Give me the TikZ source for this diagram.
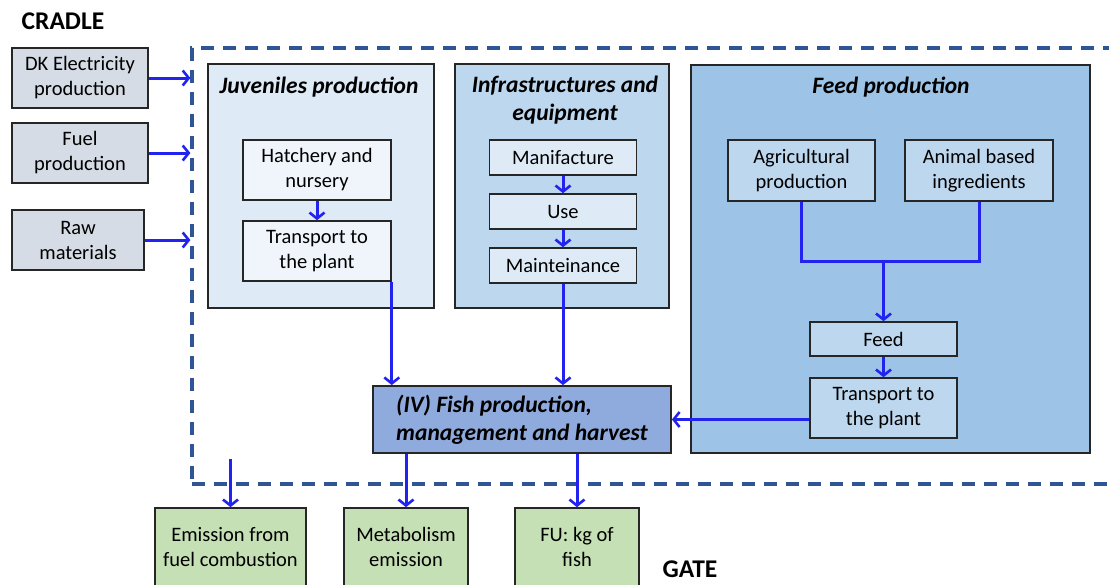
\documentclass[tikz,border=0pt]{standalone}
\usepackage{fontspec}
\setmainfont{Carlito}
\usetikzlibrary{arrows.meta, positioning, calc}
\definecolor{inputbg}{HTML}{D6DCE5}
\definecolor{juvbg}{HTML}{DEEBF7}
\definecolor{juvin}{HTML}{EFF5FB}
\definecolor{infrabg}{HTML}{BDD7EE}
\definecolor{feedbg}{HTML}{9DC3E6}
\definecolor{fishbg}{HTML}{8FAADC}
\definecolor{outbg}{HTML}{C5E0B4}
\definecolor{flowblue}{HTML}{2323F0}
\definecolor{sysline}{HTML}{2F5597}
\newcommand{\boxfont}{\fontsize{20.5}{25}\selectfont}
\newcommand{\titlefont}{\fontsize{23.5}{28}\selectfont\bfseries\itshape}
\tikzset{
    stagebox/.style={
        rectangle, draw=black!85, line width=1.8pt, inner sep=0pt
    },
    stepbox/.style={
        rectangle, draw=black!85, line width=1.6pt, align=center,
        inner sep=2pt, font=\boxfont
    },
    title/.style={
        align=center, font=\titlefont, inner sep=0pt
    },
    flow/.style={
        -{Straight Barb[length=6pt, width=15pt, line width=2.6pt]},
        line width=3pt, draw=flowblue
    },
    merge/.style={
        line width=3pt, draw=flowblue
    },
    sysbound/.style={
        rectangle, draw=sysline, line width=3.2pt,
        dash pattern=on 13pt off 9pt, inner sep=0pt
    }
}

\begin{document}
\begin{tikzpicture}[x=1pt, y=-1pt]

    \useasboundingbox (0,0) rectangle (1109,584);

    % system boundary
    \node[sysbound, minimum width=926pt, minimum height=436pt] (system) at (655,266) {};

    \node[font=\fontsize{25.5}{30}\selectfont\bfseries] (cradle) at (63,21) {CRADLE};
    \node[font=\fontsize{25.5}{30}\selectfont\bfseries] (gate)   at (690,569) {GATE};

    % upstream inputs
    \node[stepbox, fill=inputbg, minimum width=136pt, minimum height=60pt] (elec) at (80,78)  {DK Electricity\\production};
    \node[stepbox, fill=inputbg, minimum width=136pt, minimum height=60pt] (fuel) at (80,153) {Fuel\\production};
    \node[stepbox, fill=inputbg, minimum width=132pt, minimum height=60pt] (raw)  at (78,240) {Raw\\materials};

    \draw[flow] (elec.east) -- (elec.east -| system.west);
    \draw[flow] (fuel.east) -- (fuel.east -| system.west);
    \draw[flow] (raw.east)  -- (raw.east -| system.west);

    % juveniles production
    \node[stagebox, fill=juvbg, minimum width=226pt, minimum height=244pt] (juv) at (321,186) {};
    \node[title] (juvtitle) at (319,87) {Juveniles production};
    \node[stepbox, fill=juvin, minimum width=148pt, minimum height=60pt] (hatch)  at (317,170) {Hatchery and\\nursery};
    \node[stepbox, fill=juvin, minimum width=148pt, minimum height=60pt] (jtrans) at (317,251) {Transport to\\the plant};
    \draw[flow] (hatch) -- (jtrans);

    % infrastructures and equipment
    \node[stagebox, fill=infrabg, minimum width=214pt, minimum height=244pt] (infra) at (562,186) {};
    \node[title] (infratitle) at (565,100) {Infrastructures and\\equipment};
    \node[stepbox, fill=juvbg, minimum width=147pt, minimum height=35pt] (manif) at (563,157.5) {Manifacture};
    \node[stepbox, fill=juvbg, minimum width=147pt, minimum height=35pt] (use)   at (563,211.5) {Use};
    \node[stepbox, fill=juvbg, minimum width=147pt, minimum height=35pt] (maint) at (563,265.5) {Mainteinance};
    \draw[flow] (manif) -- (use);
    \draw[flow] (use)   -- (maint);

    % feed production
    \node[stagebox, fill=feedbg, minimum width=399pt, minimum height=388pt] (feedprod) at (890.5,259) {};
    \node[title] (feedtitle) at (891,87) {Feed production};
    \node[stepbox, fill=infrabg, minimum width=147pt, minimum height=61pt] (agri)   at (801.5,170.5) {Agricultural\\production};
    \node[stepbox, fill=infrabg, minimum width=148pt, minimum height=61pt] (animal) at (979,170.5)   {Animal based\\ingredients};
    \node[stepbox, fill=infrabg, minimum width=147pt, minimum height=34pt] (feed)   at (883.5,339)   {Feed};
    \node[stepbox, fill=infrabg, minimum width=147pt, minimum height=60pt] (ftrans) at (883.5,408)   {Transport to\\the plant};

    \coordinate (join) at (883.5,261);
    \draw[merge] (agri.south) |- (join);
    \draw[merge] (animal.south) |- (join);
    \draw[flow] (join) -- (feed.north);
    \draw[flow] (feed) -- (ftrans);

    % fish production
    \node[stagebox, fill=fishbg, minimum width=298pt, minimum height=67pt,
          align=left, font=\titlefont] (fish) at (522,419.5)
        {(IV) Fish production,\\management and harvest};

    \draw[flow] (jtrans.south east) -- (jtrans.south east |- fish.north);
    \draw[flow] (maint.south) -- (maint.south |- fish.north);
    \draw[flow] (ftrans.west |- fish.east) -- (fish.east);

    % outputs
    \node[stepbox, fill=outbg, minimum width=151pt, minimum height=78pt] (emis)  at (230.5,547) {Emission from\\fuel combustion};
    \node[stepbox, fill=outbg, minimum width=124pt, minimum height=78pt] (metab) at (406,547)   {Metabolism\\emission};
    \node[stepbox, fill=outbg, minimum width=124pt, minimum height=78pt] (fu)    at (577,547)   {FU: kg of\\fish};

    \coordinate (combust) at (230.5,459);
    \draw[flow] (combust) -- (emis.north);
    \draw[flow] (fish.south -| metab.north) -- (metab.north);
    \draw[flow] (fish.south -| fu.north) -- (fu.north);

\end{tikzpicture}
\end{document}
